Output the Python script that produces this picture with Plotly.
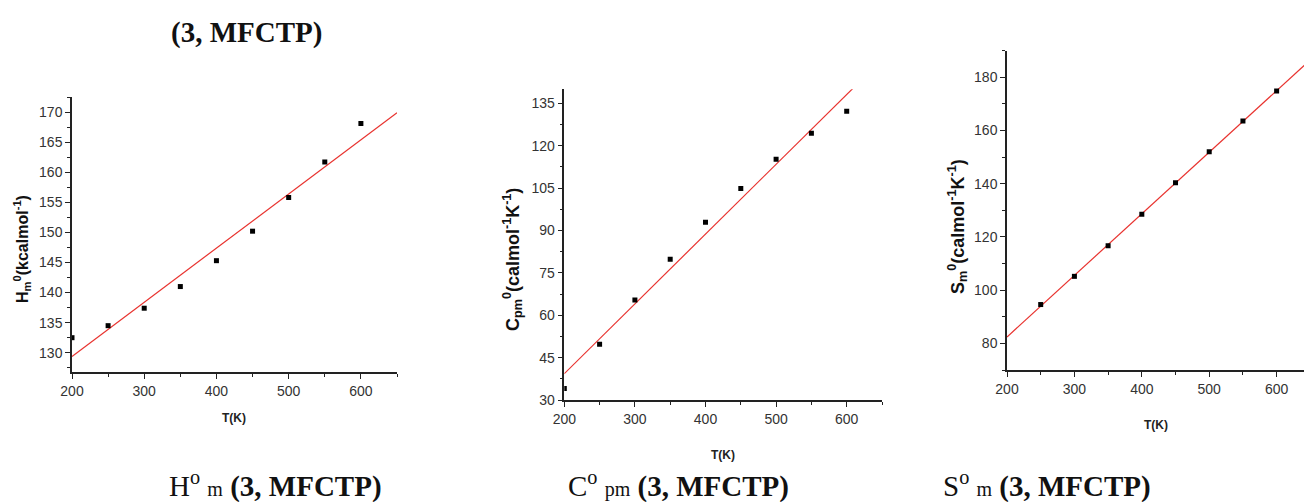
import numpy as np
import plotly.graph_objects as go

W, H = 1304, 502

# ---------------- data ----------------
T_H = [200, 250, 300, 350, 400, 450, 500, 550, 600]
H_m = [132.5, 134.5, 137.4, 141.0, 145.3, 150.2, 155.8, 161.7, 168.1]

T_C = [200, 250, 300, 350, 400, 450, 500, 550, 600]
C_pm = [34.1, 49.7, 65.4, 79.8, 92.9, 104.9, 115.2, 124.4, 132.2]

T_S = [250, 300, 350, 400, 450, 500, 550, 600]
S_m = [94.6, 105.2, 116.7, 128.5, 140.4, 152.0, 163.6, 174.9]

x_ticks = [200, 300, 400, 500, 600]

fig = go.Figure()

def px_dom_x(a, b):
    return [a / W, b / W]

def px_dom_y(top, bottom):
    return [1 - bottom / H, 1 - top / H]

panels = [
    dict(x=T_H, y=H_m, k="", xpx=(72, 397), ypx=(97, 372), xr=[200, 650], yr=[126.8, 172.5],
         ydt=5, ytitle="H<sub>m</sub><sup>0</sup>(kcalmol<sup>-1</sup>)", ytx=22, yty=249, ytsize=16,
         xty=418, fitx=[200, 650]),
    dict(x=T_C, y=C_pm, k="2", xpx=(564.3, 882), ypx=(89.3, 400), xr=[200, 650], yr=[30, 140],
         ydt=15, ytitle="C<sub>pm</sub><sup>0</sup>(calmol<sup>-1</sup>K<sup>-1</sup>)", ytx=512, yty=260, ytsize=18,
         xty=455, fitx=[200, 650]),
    dict(x=T_S, y=S_m, k="3", xpx=(1007, 1304), ypx=(50.7, 370), xr=[200, 640.6], yr=[70, 190],
         ydt=20, ytitle="S<sub>m</sub><sup>0</sup>(calmol<sup>-1</sup>K<sup>-1</sup>)", ytx=957, yty=227, ytsize=18,
         xty=425, fitx=[200, 650]),
]

axis_common = dict(
    showline=True, linecolor="#222", linewidth=1.5, ticks="outside", ticklen=5,
    tickwidth=1.2, tickcolor="#222", showgrid=False, zeroline=False, automargin=False,
    tickfont=dict(family="Liberation Sans, Arial", size=14, color="#333"),
)

for p in panels:
    xa = "x" + p["k"]
    ya = "y" + p["k"]
    coef = np.polyfit(p["x"], p["y"], 1)
    fx = np.array(p["fitx"], dtype=float)
    fy = np.polyval(coef, fx)
    fig.add_trace(go.Scatter(x=fx, y=fy, mode="lines", line=dict(color="#e8322e", width=1.2),
                             xaxis=xa, yaxis=ya, showlegend=False, hoverinfo="skip"))
    fig.add_trace(go.Scatter(x=p["x"], y=p["y"], mode="markers",
                             marker=dict(symbol="square", size=5, color="black"),
                             xaxis=xa, yaxis=ya, showlegend=False))
    xkey = "xaxis" + p["k"]
    ykey = "yaxis" + p["k"]
    fig.layout[xkey] = dict(
        domain=px_dom_x(*p["xpx"]), range=p["xr"], anchor=ya,
        tickvals=x_ticks, minor=dict(dtick=50, tick0=0, ticks="outside", ticklen=3, tickcolor="#222"),
        **axis_common)
    fig.layout[ykey] = dict(
        domain=px_dom_y(*p["ypx"]), range=p["yr"], anchor=xa, dtick=p["ydt"], tick0=0,
        minor=dict(dtick=p["ydt"] / 2, tick0=0, ticks="outside", ticklen=3, tickcolor="#222"),
        **axis_common)
    cx = (p["xpx"][0] + p["xpx"][1]) / 2
    fig.add_annotation(text="<b>T(K)</b>", xref="paper", yref="paper",
                       x=cx / W, y=1 - p["xty"] / H, showarrow=False,
                       xanchor="center", yanchor="middle",
                       font=dict(family="Liberation Sans, Arial", size=12, color="#222"))
    fig.add_annotation(text="<b>" + p["ytitle"] + "</b>", xref="paper", yref="paper",
                       x=p["ytx"] / W, y=1 - p["yty"] / H, textangle=-90, showarrow=False,
                       xanchor="center", yanchor="middle",
                       font=dict(family="Liberation Sans, Arial", size=p["ytsize"], color="#111"))

serif = "Liberation Serif, Times New Roman"
fig.add_annotation(text="<b>(3, MFCTP)</b>", xref="paper", yref="paper",
                   x=247 / W, y=1 - 33 / H, showarrow=False, xanchor="center", yanchor="middle",
                   font=dict(family=serif, size=29, color="#111"))

captions = [
    ("H", "m", 275),
    ("C", "pm", 678),
    ("S", "m", 1047),
]
for letter, sub, cx in captions:
    fig.add_annotation(
        text=letter + "<sup>o</sup> <span style='font-size:20px'>" + sub + "</span> <b>(3, MFCTP)</b>",
        xref="paper", yref="paper", x=cx / W, y=1 - 484 / H, showarrow=False,
        xanchor="center", yanchor="middle",
        font=dict(family=serif, size=29, color="#111"))

fig.update_layout(
    width=W, height=H, margin=dict(l=0, r=0, t=0, b=0, autoexpand=False),
    paper_bgcolor="white", plot_bgcolor="white",
)

fig.write_html("out.html", config={"displayModeBar": False},
               post_script="document.body.style.margin='0';document.body.style.overflow='hidden';")
